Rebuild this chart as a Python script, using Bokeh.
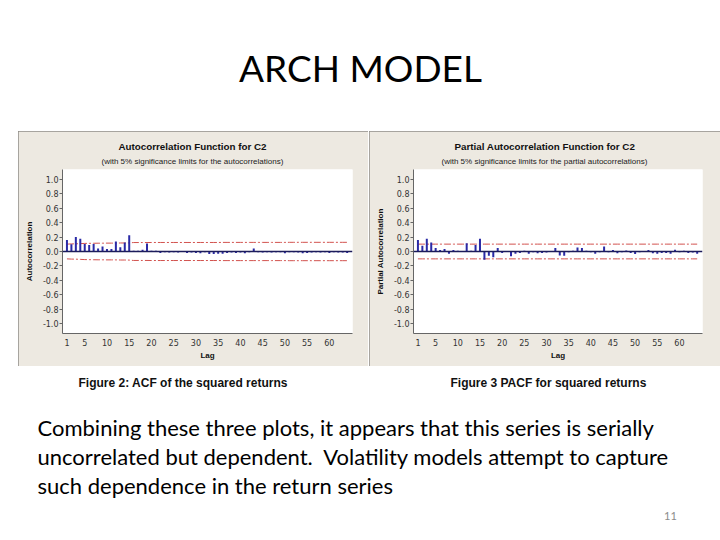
from bokeh.plotting import figure
from bokeh.layouts import column, row
from bokeh.models import Range1d, Span, Title, FixedTicker, PrintfTickFormatter, Spacer
from bokeh.core.properties import value
from bokeh.embed import file_html
from bokeh.resources import INLINE

# ---------------- data ----------------
lags = list(range(1, 65))

acf = [0.16, 0.10, 0.20, 0.175, 0.105, 0.09, 0.105, 0.04, 0.07, 0.035,
       0.035, 0.14, 0.06, 0.125, 0.225, 0.01, 0.01, 0.025, 0.11, 0.01,
       0.01, -0.02, -0.01, -0.015, -0.01, -0.015, -0.005, -0.02, -0.015, -0.02,
       -0.025, -0.01, -0.035, -0.035, -0.03, -0.03, -0.02, -0.015, -0.02, -0.015,
       -0.025, -0.01, 0.04, -0.01, -0.015, -0.01, -0.015, -0.01, -0.01, -0.025,
       -0.01, -0.01, -0.015, -0.025, -0.02, -0.015, -0.01, -0.015, -0.01, -0.02,
       -0.01, -0.015, -0.015, -0.02]

acf_limit = [0.102, 0.105, 0.106, 0.109, 0.112, 0.113, 0.114, 0.115, 0.115, 0.116,
             0.116, 0.116, 0.118, 0.118, 0.119, 0.124, 0.124, 0.124, 0.124, 0.125,
             0.125, 0.125, 0.125, 0.125, 0.125, 0.125, 0.125, 0.125, 0.125, 0.125,
             0.125, 0.125, 0.125, 0.125, 0.125, 0.126, 0.126, 0.126, 0.126, 0.126,
             0.126, 0.126, 0.126, 0.126, 0.126, 0.126, 0.126, 0.126, 0.126, 0.126,
             0.127, 0.127, 0.127, 0.127, 0.127, 0.127, 0.127, 0.127, 0.127, 0.127,
             0.127, 0.127, 0.127, 0.127]

pacf = [0.16, 0.08, 0.175, 0.125, 0.05, 0.02, 0.035, -0.03, 0.02, 0.01,
        0.005, 0.115, 0.01, 0.09, 0.175, -0.115, -0.06, -0.08, 0.05, -0.02,
        -0.005, -0.065, -0.03, -0.02, 0.01, -0.03, -0.01, -0.025, -0.02, -0.015,
        0.005, 0.05, -0.055, -0.06, -0.01, 0.01, 0.055, 0.05, 0.01, -0.01,
        -0.03, -0.01, 0.07, -0.01, 0.02, -0.025, -0.01, 0.015, -0.02, -0.035,
        -0.01, -0.005, 0.02, -0.025, -0.03, -0.02, -0.02, -0.03, 0.025, -0.01,
        0.01, -0.02, -0.015, -0.03]

pacf_limit = [0.102] * 64

y_ticks = [-1.0, -0.8, -0.6, -0.4, -0.2, 0.0, 0.2, 0.4, 0.6, 0.8, 1.0]
x_ticks = [1, 5, 10, 15, 20, 25, 30, 35, 40, 45, 50, 55, 60]

slide_title = "ARCH MODEL"
captions = ["Figure 2: ACF of the squared returns", "Figure 3 PACF for squared returns"]
body_lines = ["Combining these three plots, it appears that this series is serially",
              "uncorrelated but dependent.\u00a0 Volatility models attempt to capture",
              "such dependence in the return series"]
page_number = "11"

# ---------------- styles ----------------
PANEL = "#EDE9E1"
BORDER = "#8f8d88"
BLUE = "#2a2aa6"
ZERO = "#1c1c5a"
RED = "#d2524e"
TICK_FONT = "DejaVu Sans"


def make_chart(w, frame_w, vals, limit, title, title_off, subtitle, sub_off, ylabel):
    p = figure(width=w, height=235, output_backend="svg", toolbar_location=None,
               x_range=Range1d(0, 65.2), y_range=Range1d(-1.135, 1.135),
               min_border_left=44, min_border_right=w - 44 - frame_w,
               min_border_top=38, min_border_bottom=33)
    p.border_fill_color = PANEL
    p.background_fill_color = "white"
    p.outline_line_color = None
    p.grid.visible = False
    p.styles = {"outline": "1px solid " + BORDER, "outline-offset": "-1px"}

    # axes
    p.yaxis.ticker = FixedTicker(ticks=y_ticks)
    p.yaxis.formatter = PrintfTickFormatter(format="%.1f")
    p.xaxis.ticker = FixedTicker(ticks=x_ticks)
    for ax in (p.xaxis, p.yaxis):
        ax.axis_line_color = "#666666"
        ax.axis_line_width = 1
        ax.minor_tick_line_color = None
        ax.major_label_text_font = TICK_FONT
        ax.major_label_text_font_size = "8px"
        ax.major_label_text_color = "#333333"
        ax.axis_label_text_font = "Liberation Sans"
        ax.axis_label_text_font_style = "bold"
        ax.axis_label_text_font_size = "8px"
        ax.axis_label_text_color = "#111111"
    p.xaxis.major_tick_line_color = None
    p.xaxis.major_tick_out = 0
    p.xaxis.major_label_standoff = 5
    p.xaxis.axis_label_standoff = 2
    p.xaxis.axis_label = "Lag"
    p.yaxis.major_tick_line_color = "#666666"
    p.yaxis.major_tick_out = 3
    p.yaxis.major_tick_in = 0
    p.yaxis.major_label_standoff = 1
    p.yaxis.axis_label_standoff = 6
    p.yaxis.axis_label = ylabel

    # significance limits
    p.line(lags, limit, line_color=RED, line_width=1, line_dash="7 2 2 2")
    p.line(lags, [-v for v in limit], line_color=RED, line_width=1, line_dash="7 2 2 2")
    # zero reference
    p.add_layout(Span(location=0, dimension="width", line_color=ZERO, line_width=1.5))
    # bars
    p.segment(x0=lags, y0=[0] * len(lags), x1=lags, y1=vals, line_color=BLUE, line_width=2)

    # titles (first added sits closest to the frame)
    p.add_layout(Title(text=subtitle, align="left", offset=sub_off, standoff=7,
                       text_font="Liberation Sans", text_font_style="normal",
                       text_font_size="8px", text_color="#222222"), "above")
    p.add_layout(Title(text=title, align="left", offset=title_off, standoff=0,
                       text_font="Liberation Sans", text_font_style="bold",
                       text_font_size="9.8px", text_color="#111111"), "above")
    return p


left = make_chart(350, 290, acf, acf_limit, "Autocorrelation Function for C2", 56,
                  "(with 5% significance limits for the autocorrelations)", 39,
                  "Autocorrelation")
right = make_chart(351, 289, pacf, pacf_limit, "Partial Autocorrelation Function for C2", 41,
                   "(with 5% significance limits for the partial autocorrelations)", 28,
                   "Partial Autocorrelation")


def text_fig(w, h):
    f = figure(width=w, height=h, output_backend="svg", toolbar_location=None,
               x_range=Range1d(0, w), y_range=Range1d(h, 0),
               min_border=0)
    f.axis.visible = False
    f.grid.visible = False
    f.outline_line_color = None
    f.background_fill_color = "white"
    f.border_fill_color = "white"
    return f


header = text_fig(720, 131)
header.text(x=[360], y=[67], text=[slide_title], text_align="center", text_baseline="middle",
            text_font=value("Lato"), text_font_size="37px", text_color="#000000")

bottom = text_fig(720, 174)
bottom.text(x=[78, 450], y=[16, 16], text=captions, text_align="left", text_baseline="middle",
            text_font=value("Liberation Sans"), text_font_style="bold",
            text_font_size="12px", text_color="#111111")
bottom.text(x=[37, 37, 37], y=[61, 90, 119], text=body_lines, text_align="left",
            text_baseline="middle", text_font=value("Lato"), text_font_size="22px",
            text_color="#000000")
bottom.text(x=[670], y=[149], text=[page_number], text_align="center", text_baseline="middle",
            text_font=value("Lato"), text_font_size="11px", text_color="#8b8b8b")

layout = column(header,
                row(Spacer(width=18, height=235), left, Spacer(width=1, height=235), right),
                bottom)

open("out.html", "w").write(file_html(layout, INLINE))
